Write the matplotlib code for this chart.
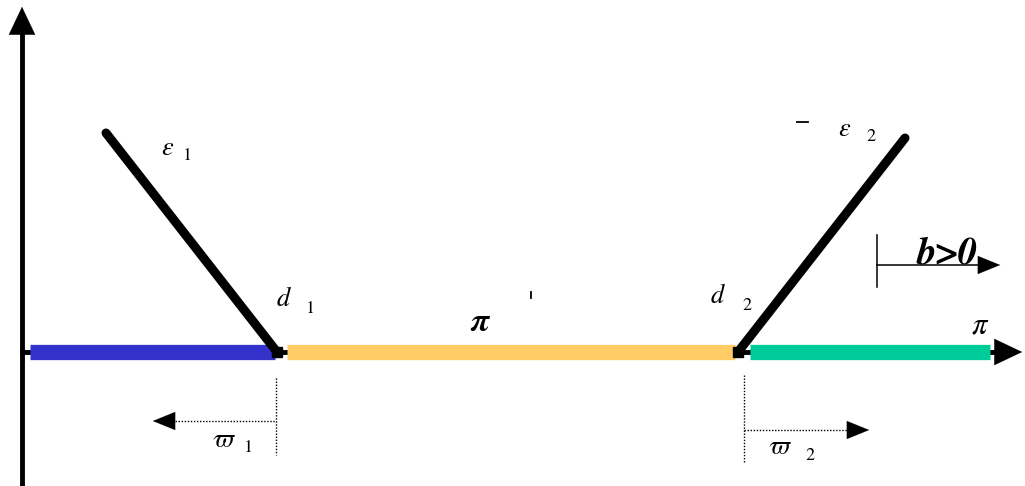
import matplotlib
matplotlib.use("Agg")
import matplotlib.pyplot as plt

plt.rcParams['mathtext.fontset'] = 'stix'
plt.rcParams['font.family'] = ['STIXGeneral', 'DejaVu Serif']

# diagram geometry (pixel units, y grows downward)
baseline = 352
seg_starts = [30, 287, 750]
seg_ends = [275, 735, 990]
seg_colors = ['#3333CC', '#FFCC66', '#00CC99']
kinks = [277, 738]
left_top = (106, 133)
right_top = (905, 138)

fig = plt.figure(figsize=(10.25, 4.86), dpi=100)
ax = fig.add_axes([0, 0, 1, 1])
ax.set_xlim(0, 1025)
ax.set_ylim(486, 0)
ax.axis('off')

big_head = dict(arrowstyle='-|>,head_length=2.0,head_width=0.95', color='black', lw=0.1)
small_head = dict(arrowstyle='-|>,head_length=1.6,head_width=0.65', color='black', lw=0.1)

# axes with arrows
ax.plot([22, 22], [486, 30], color='black', lw=3.5, solid_capstyle='butt')
ax.annotate('', xy=(22, 4), xytext=(22, 34), arrowprops=big_head)
ax.plot([22, 995], [baseline, baseline], color='black', lw=3.5)
ax.annotate('', xy=(1025, baseline), xytext=(993, baseline), arrowprops=big_head)

# coloured segments
for s, e, c in zip(seg_starts, seg_ends, seg_colors):
    ax.plot([s, e], [baseline, baseline], color=c, lw=11, solid_capstyle='butt')

# black lines
ax.plot([left_top[0], kinks[0]], [left_top[1], baseline], color='black', lw=6.5, solid_capstyle='round')
ax.plot([right_top[0], kinks[1]], [right_top[1], baseline], color='black', lw=6.5, solid_capstyle='round')
for k in kinks:
    ax.plot(k, baseline, 's', color='black', ms=7)

# dotted guides
dot = dict(color='black', lw=1.0, ls=(0, (1, 1.2)))
ax.plot([276, 276], [378, 455], **dot)
ax.plot([172, 276], [421, 421], **dot)
ax.annotate('', xy=(150, 421), xytext=(174, 421), arrowprops=small_head)
ax.plot([744, 744], [375, 463], **dot)
ax.plot([744, 850], [430, 430], **dot)
ax.annotate('', xy=(872, 430), xytext=(848, 430), arrowprops=small_head)

# b>0 marker
ax.plot([877, 877], [235, 287], color='black', lw=1.1)
ax.plot([877, 982], [265, 265], color='black', lw=1.1)
ax.annotate('', xy=(1003, 265), xytext=(980, 265), arrowprops=small_head)
ax.text(947, 263, 'b>0', fontsize=28, fontweight='bold', fontstyle='italic',
        ha='center', va='baseline')

# labels
lab = dict(fontsize=19, va='baseline', ha='center')
sub = dict(fontsize=13, va='baseline', ha='center')
ax.text(168, 155, r'$\varepsilon$', **lab)
ax.text(188, 160, '1', **sub)
ax.text(284, 306, r'$d$', **lab)
ax.text(311, 313, '1', **sub)
ax.text(481, 331, r'$\boldsymbol{\pi}$', fontsize=24, va='baseline', ha='center')
ax.plot([531, 531], [292, 298], color='black', lw=1.3)
ax.text(718, 303, r'$d$', **lab)
ax.text(747, 310, '2', **sub)
ax.plot([797, 808], [122, 122], color='black', lw=1.3)
ax.text(845, 136, r'$\varepsilon$', **lab)
ax.text(871, 141, '2', **sub)
ax.text(980, 333, r'$\pi$', fontsize=22, va='baseline', ha='center')
ax.text(224, 447, r'$\varpi$', **lab)
ax.text(249, 452, '1', **sub)
ax.text(780, 454, r'$\varpi$', **lab)
ax.text(810, 460, '2', **sub)

fig.savefig('out.png', dpi=100)
